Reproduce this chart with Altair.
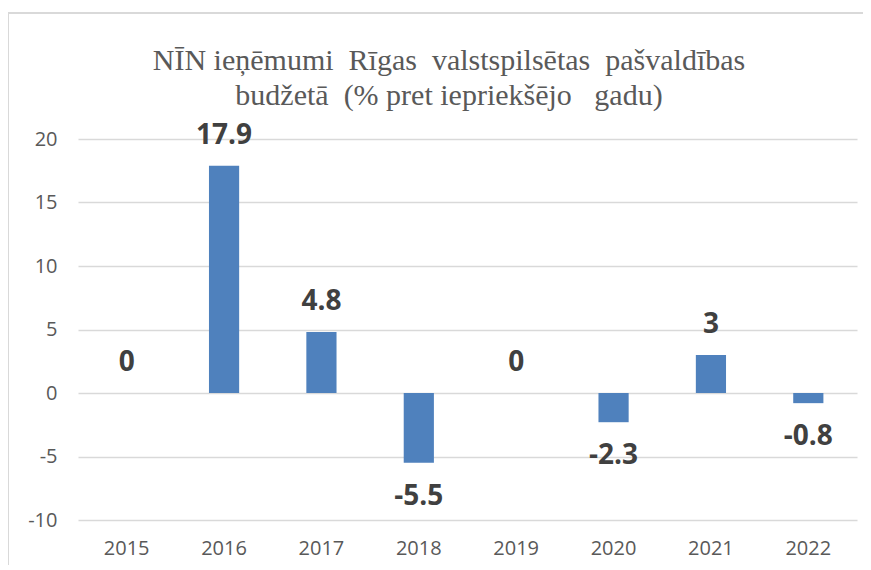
import altair as alt
import pandas as pd

years = ["2015", "2016", "2017", "2018", "2019", "2020", "2021", "2022"]
values = [0, 17.9, 4.8, -5.5, 0, -2.3, 3, -0.8]
labels = ["0", "17.9", "4.8", "-5.5", "0", "-2.3", "3", "-0.8"]
y_ticks = [-10, -5, 0, 5, 10, 15, 20]
NB = "\u00a0"
title_lines = ["NĪN ieņēmumi" + NB + " Rīgas" + NB + " valstspilsētas" + NB + " pašvaldības",
               "budžetā" + NB + " (% pret iepriekšējo" + NB + NB + " gadu)"]

df = pd.DataFrame({"year": years, "value": values, "label": labels})

x = alt.X("year:N", sort=years, title=None,
          scale=alt.Scale(paddingInner=0.69, paddingOuter=0.345),
          axis=alt.Axis(labelAngle=0, ticks=False, domain=False, labelPadding=18,
                        labelFont="Open Sans", labelFontSize=20, labelColor="#595959"))
y = alt.Y("value:Q", title=None,
          scale=alt.Scale(domain=[-10, 20], nice=False),
          axis=alt.Axis(values=y_ticks, ticks=False, domain=False, labelPadding=21,
                        labelExpr="'' + datum.value",
                        labelFont="Open Sans", labelFontSize=20, labelColor="#595959",
                        gridColor="#d9d9d9", gridWidth=1.5))

base = alt.Chart(df)
bars = base.mark_bar(color="#4F81BD").encode(x=x, y=y)
pos = base.transform_filter("datum.value >= 0").mark_text(
    font="Open Sans", fontWeight="bold", fontSize=28, color="#404040",
    baseline="middle", dy=-30).encode(x=x, y=y, text="label:N")
neg = base.transform_filter("datum.value < 0").mark_text(
    font="Open Sans", fontWeight="bold", fontSize=28, color="#404040",
    baseline="middle", dy=34).encode(x=x, y=y, text="label:N")

frame = alt.Chart(alt.Data(values=[{}]))
top_line = frame.mark_rule(color="#d9d9d9", strokeWidth=2).encode(
    x=alt.value(-70), x2=alt.value(790), y=alt.value(-126))
left_line = frame.mark_rule(color="#d9d9d9", strokeWidth=2).encode(
    x=alt.value(-70), y=alt.value(-126), y2=alt.value(440))

tdf = pd.DataFrame({"t": title_lines, "ypos": [-69, -34]})
title = alt.Chart(tdf).mark_text(
    font="Liberation Serif", fontSize=30, color="#595959", baseline="alphabetic",
    align="center").encode(x=alt.value(371), y=alt.Y("ypos:Q", scale=None), text="t:N")

chart = alt.layer(bars, pos, neg, top_line, left_line, title).properties(
    width=779, height=381,
    autosize=alt.AutoSizeParams(type="none"),
    padding={"left": 70, "top": 131, "right": 6, "bottom": 45},
).configure_view(stroke=None)

chart.save("out.html", embed_options={"renderer": "svg", "actions": False})
